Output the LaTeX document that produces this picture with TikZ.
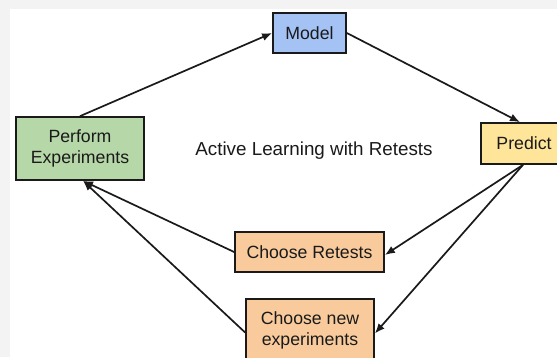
\documentclass[tikz,border=0pt]{standalone}
\usepackage{fontspec}
\setmainfont{Liberation Sans}
\usetikzlibrary{arrows.meta}

\definecolor{pagegray}{HTML}{F3F3F3}
\definecolor{modelblue}{HTML}{A4C2F4}
\definecolor{expgreen}{HTML}{B6D7A8}
\definecolor{predyellow}{HTML}{FFE599}
\definecolor{chooseorange}{HTML}{F9CB9C}
\definecolor{inkgray}{HTML}{1A1A1A}

\begin{document}
\begin{tikzpicture}[x=1pt, y=-1pt, >={Latex[length=10pt,width=8pt]},
    box/.style={draw=inkgray, line width=1.7pt, text=inkgray, inner sep=0pt,
        align=center, font=\fontsize{17.7}{21}\selectfont},
    flow/.style={->, line width=1.7pt, inkgray}]
    \useasboundingbox (0, 0) rectangle (557, 357);

    % background
    \fill[pagegray] (0, 0) rectangle (557, 357);
    \fill[white] (10, 9) rectangle (557, 357);

    % boxes
    \node[box, fill=modelblue, minimum width=73, minimum height=40] (model) at (309.5, 33) {Model};
    \node[box, fill=expgreen, minimum width=128, minimum height=63] (perform) at (80, 148.5) {Perform\\Experiments};
    \node[box, fill=predyellow, minimum width=86, minimum height=41] (predict) at (524, 143.5) {Predict};
    \node[box, fill=chooseorange, minimum width=149, minimum height=40] (retests) at (309.5, 252) {Choose Retests};
    \node[box, fill=chooseorange, minimum width=128, minimum height=63] (newexp) at (310, 330.5) {Choose new\\experiments};

    \node[text=inkgray, font=\fontsize{18.8}{22}\selectfont] (title) at (314, 150.5) {Active Learning with Retests};

    % cycle
    \draw[flow] (perform.north) -- (model.west);
    \draw[flow] (model.east) -- ([xshift=-4]predict.north);
    \draw[flow] ([xshift=-1]predict.south) -- ([yshift=-3]retests.east);
    \draw[flow] ([xshift=-1]predict.south) -- ([yshift=-3]newexp.east);
    \draw[flow] (retests.west) -- ([xshift=3]perform.south);
    \draw[flow] ([yshift=-2]newexp.west) -- ([xshift=3]perform.south);
\end{tikzpicture}
\end{document}
